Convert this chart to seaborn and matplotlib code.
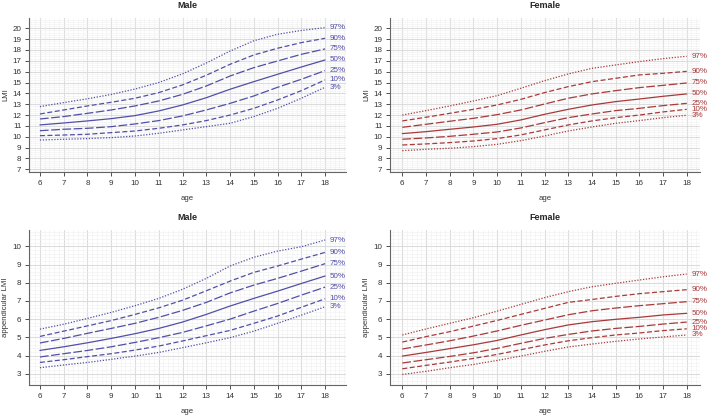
import numpy as np
import pandas as pd
import matplotlib
matplotlib.use("Agg")
import matplotlib.pyplot as plt
from matplotlib.ticker import MultipleLocator
import seaborn as sns

sns.set_style("white")
plt.rcParams['font.family'] = ['Liberation Sans', 'DejaVu Sans']

ages = list(range(6, 19))
pct_labels = ["3%", "10%", "25%", "50%", "75%", "90%", "97%"]

male_lmi = {
    "97%": [12.78, 13.15, 13.5, 13.9, 14.4, 15.0, 15.8, 16.8, 17.9, 18.85, 19.45, 19.8, 20.06],
    "90%": [12.1, 12.47, 12.84, 13.18, 13.55, 14.07, 14.78, 15.67, 16.68, 17.54, 18.16, 18.68, 19.08],
    "75%": [11.64, 11.86, 12.16, 12.47, 12.84, 13.3, 13.91, 14.68, 15.6, 16.37, 16.99, 17.6, 18.1],
    "50%": [11.09, 11.27, 11.46, 11.67, 11.95, 12.38, 12.93, 13.6, 14.38, 15.08, 15.76, 16.43, 17.08],
    "25%": [10.56, 10.69, 10.78, 10.93, 11.18, 11.49, 11.92, 12.47, 13.08, 13.76, 14.56, 15.3, 16.1],
    "10%": [10.1, 10.16, 10.23, 10.38, 10.53, 10.78, 11.09, 11.49, 12.0, 12.62, 13.39, 14.25, 15.24],
    "3%": [9.7, 9.77, 9.83, 9.92, 10.07, 10.32, 10.63, 10.93, 11.24, 11.86, 12.62, 13.55, 14.56],
}
female_lmi = {
    "97%": [12.0, 12.41, 12.84, 13.3, 13.79, 14.47, 15.17, 15.79, 16.31, 16.62, 16.93, 17.2, 17.42],
    "90%": [11.46, 11.8, 12.16, 12.53, 12.93, 13.45, 14.07, 14.62, 15.08, 15.39, 15.7, 15.85, 16.03],
    "75%": [10.87, 11.15, 11.43, 11.7, 12.04, 12.47, 13.02, 13.55, 13.95, 14.25, 14.53, 14.74, 14.96],
    "50%": [10.29, 10.47, 10.69, 10.9, 11.15, 11.55, 12.07, 12.53, 12.93, 13.24, 13.48, 13.73, 13.95],
    "25%": [9.77, 9.89, 10.04, 10.23, 10.44, 10.81, 11.3, 11.76, 12.1, 12.41, 12.62, 12.87, 13.08],
    "10%": [9.24, 9.34, 9.46, 9.61, 9.83, 10.17, 10.63, 11.09, 11.46, 11.76, 12.0, 12.29, 12.53],
    "3%": [8.72, 8.84, 8.94, 9.09, 9.3, 9.64, 10.07, 10.53, 10.9, 11.24, 11.49, 11.76, 11.98],
}
male_almi = {
    "97%": [5.45, 5.72, 6.04, 6.37, 6.74, 7.14, 7.64, 8.24, 8.92, 9.4, 9.74, 9.98, 10.35],
    "90%": [5.05, 5.34, 5.63, 5.92, 6.26, 6.62, 7.04, 7.56, 8.09, 8.57, 8.92, 9.3, 9.67],
    "75%": [4.69, 4.94, 5.22, 5.49, 5.77, 6.1, 6.48, 6.92, 7.44, 7.87, 8.24, 8.64, 9.05],
    "50%": [4.28, 4.48, 4.7, 4.94, 5.2, 5.49, 5.84, 6.26, 6.72, 7.14, 7.54, 7.96, 8.37],
    "25%": [3.92, 4.1, 4.28, 4.48, 4.72, 4.98, 5.27, 5.63, 6.0, 6.44, 6.86, 7.32, 7.76],
    "10%": [3.62, 3.77, 3.94, 4.1, 4.3, 4.52, 4.8, 5.09, 5.38, 5.77, 6.17, 6.65, 7.12],
    "3%": [3.33, 3.48, 3.62, 3.79, 3.97, 4.17, 4.43, 4.7, 4.98, 5.34, 5.77, 6.22, 6.68],
}
female_almi = {
    "97%": [5.13, 5.46, 5.77, 6.08, 6.44, 6.81, 7.18, 7.51, 7.78, 7.97, 8.15, 8.33, 8.48],
    "90%": [4.74, 5.04, 5.31, 5.62, 5.93, 6.26, 6.59, 6.92, 7.08, 7.25, 7.4, 7.51, 7.62],
    "75%": [4.36, 4.58, 4.81, 5.07, 5.35, 5.66, 5.95, 6.24, 6.46, 6.61, 6.74, 6.85, 6.96],
    "50%": [3.97, 4.17, 4.38, 4.59, 4.83, 5.13, 5.42, 5.68, 5.86, 5.99, 6.1, 6.23, 6.32],
    "25%": [3.59, 3.77, 3.95, 4.15, 4.39, 4.67, 4.94, 5.16, 5.35, 5.49, 5.6, 5.73, 5.84],
    "10%": [3.27, 3.46, 3.64, 3.84, 4.06, 4.32, 4.58, 4.81, 4.98, 5.13, 5.24, 5.37, 5.47],
    "3%": [2.96, 3.13, 3.33, 3.51, 3.73, 3.97, 4.23, 4.47, 4.63, 4.78, 4.91, 5.02, 5.13],
}

male_color = "#5050a8"
female_color = "#a83a3a"

styles = {
    "3%": (0, (1, 1.3)), "97%": (0, (1, 1.3)),
    "10%": (0, (4, 2)), "90%": (0, (4, 2)),
    "25%": (0, (7, 2)), "75%": (0, (7, 2)),
    "50%": "-",
}

W, H = 709, 415
fig = plt.figure(figsize=(W / 100, H / 100), dpi=100)

def rect(x0, x1, y0, y1):
    return [x0 / W, 1 - y1 / H, (x1 - x0) / W, (y1 - y0) / H]

# (rect, data, color, title, ylabel, ylim, yticks, xlim, ylabel x-offset px from axis, axis width px)
panels = [
    (rect(29, 346, 18, 172), male_lmi, male_color, "Male", "LMI", (6.75, 20.95), range(7, 21), (5.54, 18.88), -20, 317),
    (rect(390, 700, 18, 172), female_lmi, female_color, "Female", "LMI", (6.75, 20.95), range(7, 21), (5.48, 18.56), -20, 310),
    (rect(29, 346, 230, 385), male_almi, male_color, "Male", "appendicular LMI", (2.38, 10.9), range(3, 11), (5.54, 18.88), -20, 317),
    (rect(390, 700, 230, 385), female_almi, female_color, "Female", "appendicular LMI", (2.38, 10.9), range(3, 11), (5.48, 18.56), -20, 310),
]

for pos, data, color, title, ylab, ylim, yticks, xlim, yoff, wpx in panels:
    ax = fig.add_axes(pos)
    ax.set_xlim(*xlim)
    ax.set_ylim(*ylim)
    ax.set_xticks(ages)
    ax.set_yticks(list(yticks))
    ax.xaxis.set_minor_locator(MultipleLocator(0.2))
    ax.yaxis.set_minor_locator(MultipleLocator(0.2))
    ax.grid(which="major", color="#dcdcdc", linewidth=0.8)
    ax.grid(which="minor", color="#efefef", linewidth=0.4)
    ax.set_axisbelow(True)
    for p in pct_labels[::-1]:
        df = pd.DataFrame({"age": ages, "val": data[p]})
        sns.lineplot(data=df, x="age", y="val", ax=ax, color=color,
                     linestyle=styles[p], linewidth=0.9, legend=False)
    for p in pct_labels:
        ax.text(18.2, data[p][-1], p, color=color, fontsize=5.8, va="center", ha="left")
    for s in ["top", "right"]:
        ax.spines[s].set_visible(False)
    for s in ["left", "bottom"]:
        ax.spines[s].set_color("#666666")
        ax.spines[s].set_linewidth(0.8)
    ax.tick_params(axis="both", which="major", labelsize=5.8, colors="#333333",
                   length=3, width=0.6, direction="out", left=True, bottom=True, pad=2.5)
    ax.tick_params(axis="both", which="minor", length=0)
    ax.set_title(title, fontsize=6.5, fontweight="bold", pad=7)
    ax.set_xlabel("age", fontsize=5.6, color="#333333", labelpad=6)
    ax.set_ylabel(ylab, fontsize=5.6, color="#333333")
    ax.yaxis.set_label_coords(yoff / wpx, 0.5)

fig.savefig("out.png", dpi=100)
